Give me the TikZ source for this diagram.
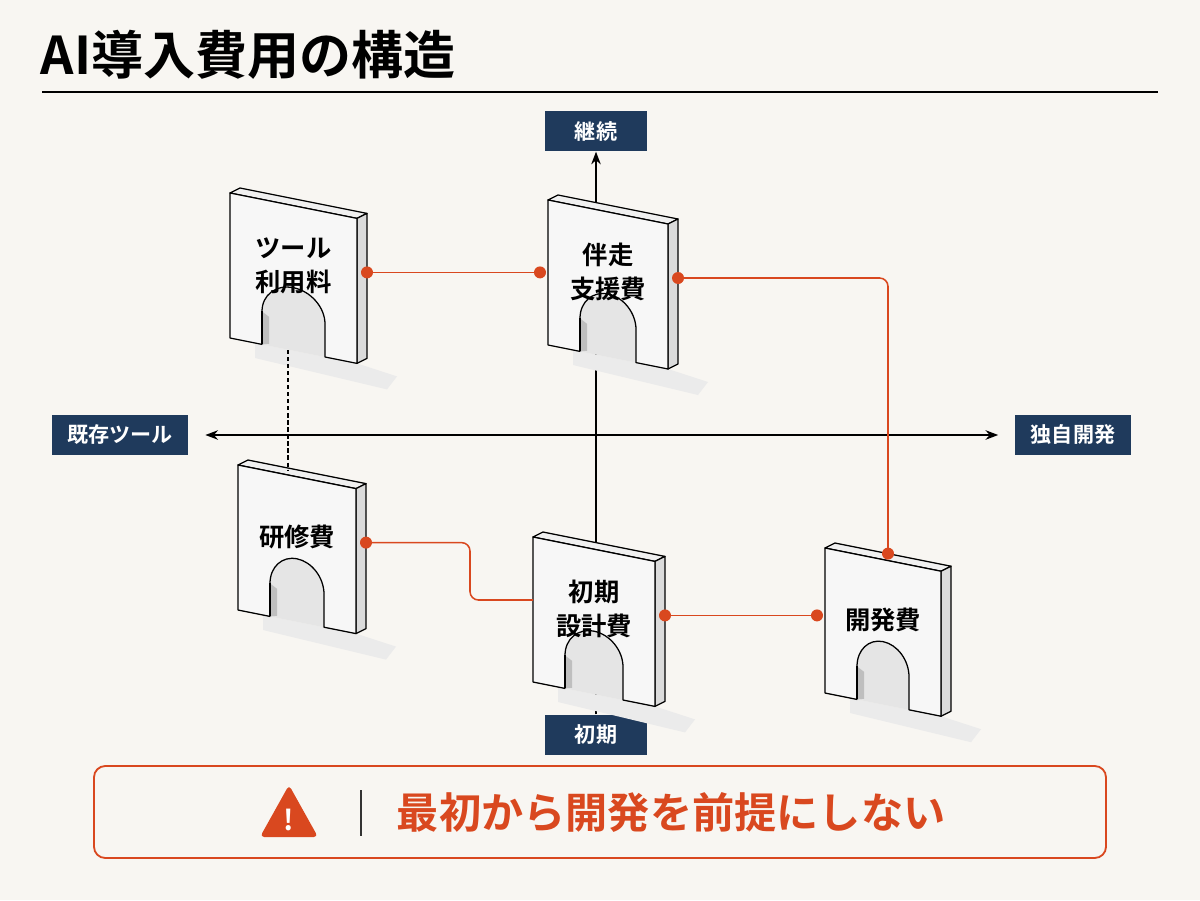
\documentclass[tikz,border=0pt]{standalone}
\usepackage{fontspec}
\setmainfont{Noto Sans CJK JP}[BoldFont={Noto Sans CJK JP Bold}]
\usetikzlibrary{arrows.meta}
\definecolor{paper}{HTML}{F8F6F2}
\definecolor{navy}{HTML}{1F3A5C}
\definecolor{rust}{HTML}{D9481F}

\tikzset{
  tag/.style={fill=navy, text=white, font=\fontsize{15}{18}\selectfont\bfseries,
    minimum height=29pt, minimum width=72pt, inner xsep=11pt},
  wall/.style={draw=black, line width=0.9pt, line join=round},
  label/.style={font=\fontsize{18}{24}\selectfont\bfseries, align=center},
  link/.style={rust, line width=1.1pt, rounded corners=6pt},
  pin/.style={fill=rust, draw=none}
}

% block: name, x, y (front top-left corner), width, text
\newcommand{\archblock}[5]{
  \begin{scope}[shift={(#2,#3)}, yslant=-0.2]
    % shadow
    \fill[black!8] (#4,145) -- (#4+40,150) -- (#4+30,165) -- (25,160) -- (25,145) -- cycle;
    % top and side
    \filldraw[wall, fill=black!6] (0,0) -- (10,-7) -- (#4+10,-7) -- (#4,0) -- cycle;
    \filldraw[wall, fill=black!14] (#4,0) -- (#4+10,-7) -- (#4+10,138) -- (#4,145) -- cycle;
    % arch opening
    \fill[black!10] (#4-32,145) -- (#4-32,112)
      arc[start angle=0, end angle=180, x radius=#4/2-32, y radius=-30] -- (32,145) -- cycle;
    % front with arch
    \filldraw[wall, fill=white!97!black] (0,0) -- (#4,0) -- (#4,145) -- (#4-32,145) -- (#4-32,112)
      arc[start angle=0, end angle=180, x radius=#4/2-32, y radius=-30] -- (32,145) -- (0,145) -- cycle;
    \fill[black!25] (32,112) -- (32,145) -- (39,143) -- (39,116) -- cycle;
    \draw[wall] (32,112) -- (32,145);
    \node[label] (#1) at (#4/2,60) {#5};
    \coordinate (#1-e) at (#4+10,52);
    \coordinate (#1-w) at (-8,52);
    \coordinate (#1-n) at (#4/2+5,-7);
  \end{scope}
}

\begin{document}
\begin{tikzpicture}[x=0.025cm, y=-0.025cm]
  \fill[paper] (0,0) rectangle (1200,900);

  % title
  \node[anchor=west, font=\fontsize{37}{44}\selectfont\bfseries] (title) at (36,55) {AI導入費用の構造};
  \draw[line width=1.2pt] (42,92) -- (1158,92);

  % axes tags
  \node[tag] (up) at (596,131) {継続};
  \node[tag] (down) at (596,735) {初期};
  \node[tag] (left) at (120,435) {既存ツール};
  \node[tag] (right) at (1073,435) {独自開発};

  % axes
  \draw[line width=1.3pt, -{Stealth[length=9pt]}] (down.north) -- (up.south);
  \draw[line width=1.3pt, {Stealth[length=9pt]}-{Stealth[length=9pt]}] ([xshift=12]left.east) -- ([xshift=-12]right.west);

  % blocks
  \archblock{tool}{230}{193}{127}{ツール\\利用料}
  \archblock{band}{548}{200}{120}{伴走\\支援費}
  \archblock{train}{238}{465}{118}{研修費}
  \archblock{init}{533}{537}{122}{初期\\設計費}
  \archblock{dev}{825}{548}{116}{開発費}

  % links
  \draw[densely dashed, line width=1pt] (288,350) -- (288,470);
  \draw[link] (tool-e) -- (tool-e -| band-w);
  \draw[link] (band-e) -| (dev-n);
  \draw[link] (train-e) -| (470,600) -- (533,600);
  \draw[link] (init-e) -- (init-e -| dev-w);
  \foreach \p in {tool-e, tool-e -| band-w, band-e, dev-n, train-e, init-e, init-e -| dev-w}
    \fill[pin] (\p) circle (6);

  % warning box
  \draw[rust, line width=1.3pt, rounded corners=8pt] (94,766) rectangle (1106,858);
  \fill[rust, rounded corners=3pt] (260,837) -- (318,837) -- (289,785) -- cycle;
  \node[white, font=\fontsize{20}{20}\selectfont\bfseries] (bang) at (289,820) {!};
  \draw[line width=1pt, black!80] (361,790) -- (361,836);
  \node[anchor=west, rust, font=\fontsize{30}{36}\selectfont\bfseries] (warn) at (392,812) {最初から開発を前提にしない};
\end{tikzpicture}
\end{document}
